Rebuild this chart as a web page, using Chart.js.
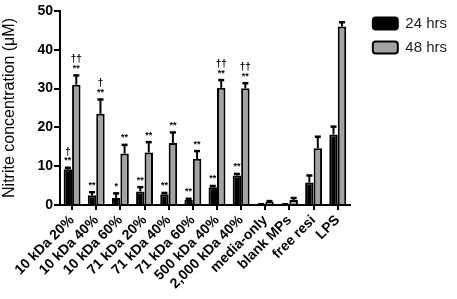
<!DOCTYPE html>
<html>
<head>
<meta charset="utf-8">
<script src="https://cdn.jsdelivr.net/npm/chart.js@4"></script>
<style>
  html, body { margin: 0; padding: 0; background: #fff; }
  #wrap { width: 457px; height: 299px; }
</style>
</head>
<body>
<div id="wrap"><canvas id="myChart" width="457" height="299"></canvas></div>
<script>
var labels = ['10 kDa 20%', '10 kDa 40%', '10 kDa 60%', '71 kDa 20%', '71 kDa 40%', '71 kDa 60%',
  '500 kDa 40%', '2,000 kDa 40%', 'media-only', 'blank MPs', 'free resi', 'LPS'];
var hrs24 = [9.2, 2.5, 1.8, 3.5, 2.8, 1.3, 4.6, 7.6, 0.2, 0.2, 5.8, 18.2];
var err24 = [0.4, 0.8, 1.2, 1.1, 0.3, 0.3, 0.3, 0.4, 0, 0, 1.8, 2.0];
var hrs48 = [31, 23.5, 13.3, 13.5, 16, 11.9, 30.2, 30.1, 0.8, 1.3, 14.6, 46];
var err48 = [2.4, 3.7, 2.2, 2.7, 2.7, 2.0, 2.0, 1.3, 0.2, 0.5, 3.0, 1.1];
var stars24 = ['**', '**', '*', '**', '**', '**', '**', '**', '', '', '', ''];
var dagger24 = ['\u2020', '', '', '', '', '', '', '', '', '', '', ''];
var stars48 = ['**', '**', '**', '**', '**', '**', '**', '**', '', '', '', ''];
var dagger48 = ['\u2020\u2020', '\u2020', '', '', '', '', '\u2020\u2020', '\u2020\u2020', '', '', '', ''];

var errs = [err24, err48];
var stars = [stars24, stars48];
var daggers = [dagger24, dagger48];

// error bars + significance marks
var errorBars = {
  id: 'errorBars',
  afterDatasetsDraw: function(chart) {
    var c = chart.ctx;
    var y = chart.scales.y;
    chart.data.datasets.forEach(function(ds, d) {
      var meta = chart.getDatasetMeta(d);
      meta.data.forEach(function(bar, i) {
        var top = y.getPixelForValue(ds.data[i] + errs[d][i]);
        c.save();
        c.strokeStyle = '#000';
        c.lineWidth = 2;
        c.beginPath();
        c.moveTo(bar.x, bar.y);
        c.lineTo(bar.x, top);
        c.stroke();
        c.lineWidth = 2.5;
        c.beginPath();
        c.moveTo(bar.x - 3, top);
        c.lineTo(bar.x + 3, top);
        c.stroke();
        c.fillStyle = '#000';
        c.textAlign = 'center';
        c.textBaseline = 'middle';
        c.font = 'bold 9px "Liberation Sans", Arial';
        if (stars[d][i]) c.fillText(stars[d][i], bar.x, top - 7);
        c.font = 'bold 10px "Liberation Sans", Arial';
        if (daggers[d][i]) c.fillText(daggers[d][i], bar.x, top - 16);
        c.restore();
      });
    });
  }
};

// leave a wider gap between the plot and the legend
var legendGap = 14;
var legendSpace = {
  id: 'legendSpace',
  beforeLayout: function(chart) {
    var lg = chart.legend;
    if (lg && !lg._gapPatched) {
      var fit = lg.fit;
      lg.fit = function() {
        fit.call(this);
        this.width += legendGap;
      };
      lg._gapPatched = true;
    }
  },
  afterLayout: function(chart) {
    var lg = chart.legend;
    lg.left += legendGap;
    lg.top -= 4;
  }
};

var ctx = document.getElementById('myChart').getContext('2d');
var chart = new Chart(ctx, {
  type: 'bar',
  data: {
    labels: labels,
    datasets: [{
      label: '24 hrs',
      data: hrs24,
      backgroundColor: '#000',
      borderColor: '#000',
      borderWidth: 2
    }, {
      label: '48 hrs',
      data: hrs48,
      backgroundColor: '#a3a3a3',
      borderColor: '#000',
      borderWidth: 2
    }]
  },
  options: {
    responsive: false,
    animation: false,
    layout: { padding: { top: 11, right: 0, left: 0, bottom: 0 } },
    datasets: { bar: { categoryPercentage: 0.7, barPercentage: 1.0 } },
    plugins: {
      tooltip: { enabled: false },
      legend: {
        position: 'right',
        align: 'start',
        labels: {
          boxWidth: 25,
          boxHeight: 12,
          useBorderRadius: true,
          borderRadius: 3,
          color: '#222',
          padding: 9,
          font: { family: '"Liberation Sans", Arial', size: 15 }
        }
      }
    },
    scales: {
      x: {
        grid: { offset: false, drawOnChartArea: false, drawTicks: true, tickLength: 5, color: '#000', lineWidth: 2 },
        border: { color: '#000', width: 2 },
        ticks: {
          color: '#000',
          autoSkip: false,
          minRotation: 45,
          maxRotation: 45,
          padding: 2,
          font: { family: '"Liberation Sans", Arial', size: 14, weight: 'bold' }
        },
        afterFit: function(s) { s.height = 94; }
      },
      y: {
        min: 0,
        max: 50,
        grid: { drawOnChartArea: false, drawTicks: true, tickLength: 6, color: '#000', lineWidth: 2 },
        border: { color: '#000', width: 2 },
        ticks: {
          stepSize: 10,
          color: '#000',
          padding: 1,
          font: { family: '"Liberation Sans", Arial', size: 14, weight: 'bold' }
        },
        title: {
          display: true,
          text: 'Nitrite concentration (\u03bcM)',
          color: '#000',
          padding: 0,
          font: { family: '"Liberation Sans", Arial', size: 16 }
        },
        afterFit: function(s) { s.width = 60; }
      }
    }
  },
  plugins: [errorBars, legendSpace]
});
</script>
</body>
</html>
